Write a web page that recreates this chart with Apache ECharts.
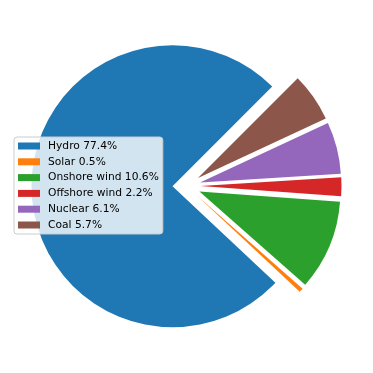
<!DOCTYPE html>
<html>
<head>
<meta charset="utf-8">
<script src="https://cdn.jsdelivr.net/npm/echarts@6/dist/echarts.min.js"></script>
<style>
html,body{margin:0;padding:0;background:#fff;}
#c{width:373px;height:373px;}
</style>
</head>
<body>
<div id="c"></div>
<script>
const categories = ['Hydro', 'Solar', 'Onshore wind', 'Offshore wind', 'Nuclear', 'Coal'];
const values = [77.4, 0.5, 10.6, 2.2, 6.1, 5.7];
const colors = ['#1f77b4', '#ff7f0e', '#2ca02c', '#d62728', '#9467bd', '#8c564b'];

const labelMap = {};
categories.forEach((c, i) => { labelMap[c] = c + ' ' + values[i].toFixed(1) + '%'; });

const chart = echarts.init(document.getElementById('c'), null, {renderer: 'canvas'});
chart.setOption({
  animation: false,
  backgroundColor: '#ffffff',
  legend: {
    orient: 'vertical',
    left: 14,
    top: 137,
    padding: [3, 4, 3, 4],
    itemWidth: 22,
    itemHeight: 7,
    itemGap: 3.8,
    icon: 'rect',
    selectedMode: false,
    backgroundColor: 'rgba(255,255,255,0.8)',
    borderColor: '#cccccc',
    borderWidth: 1,
    borderRadius: 3,
    data: categories,
    formatter: name => labelMap[name],
    textStyle: {
      fontFamily: 'DejaVu Sans',
      fontSize: 10.7,
      lineHeight: 12,
      color: '#000000',
      padding: [0, 0, 0, 3]
    }
  },
  series: [{
    type: 'pie',
    center: [186.5, 186],
    radius: [0, 141],
    startAngle: 45,
    clockwise: false,
    selectedMode: 'multiple',
    selectedOffset: 14,
    avoidLabelOverlap: false,
    label: {show: false},
    labelLine: {show: false},
    itemStyle: {borderWidth: 0},
    emphasis: {disabled: true},
    select: {itemStyle: {borderWidth: 0}},
    data: categories.map((c, i) => ({
      name: c,
      value: values[i],
      selected: true,
      itemStyle: {color: colors[i], borderWidth: 0},
      select: {itemStyle: {color: colors[i], borderWidth: 0}}
    }))
  }]
});
</script>
</body>
</html>
